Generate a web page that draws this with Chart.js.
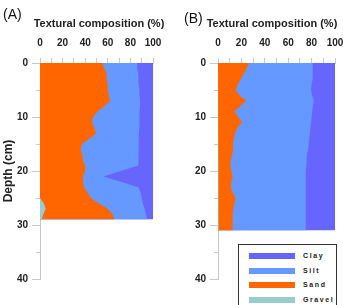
<!DOCTYPE html>
<html>
<head>
<meta charset="utf-8">
<script src="https://cdn.jsdelivr.net/npm/chart.js@4.4.0/dist/chart.umd.min.js"></script>
<style>
body{margin:0;width:343px;height:305px;overflow:hidden;background:#fff;position:relative;font-family:"Liberation Sans",Arial,sans-serif}
#wrapA{position:absolute;left:0;top:0;width:198px;height:305px}
#wrapB{position:absolute;left:171px;top:0;width:202px;height:305px}
.panel{position:absolute;font-size:14px;line-height:16px;color:#111}
#legend{position:absolute;left:238px;top:244px;width:97px;height:70px;border:1px solid #333;background:#fff}
.item{position:absolute;left:10px;width:85px;height:8px}
.sw{position:absolute;left:0;top:1px;width:46px;height:6px}
.lb{position:absolute;left:54px;top:-1px;font-size:7px;font-weight:bold;letter-spacing:1.6px;color:#222;white-space:nowrap;line-height:10px}
</style>
</head>
<body>
<div id="wrapA"><canvas id="chartA" width="198" height="305"></canvas></div>
<div id="wrapB"><canvas id="chartB" width="202" height="305"></canvas></div>
<div class="panel" style="left:3px;top:6px">(A)</div>
<div class="panel" style="left:184px;top:10px">(B)</div>
<div id="legend"></div>
<script>
// depth (cm) and composition (%) for each core
const depthA = [0,1,2,3,4,5,6,7,8,9,10,11,12,13,14,15,16,17,18,19,20,21,22,23,24,25,26,27,28,29]
const gravelA = [0,0,0,0,0,0,0,0,0,0,0,0,0,0,0,0,0,0,0,0,0,0,0,0,0,0.5,3.5,5,3,1.5]
const sandA = [55,57,59,59,60,60,61,62,57,51,47,46,48,50,44,37,36,37.5,38,40,40,38,38,39,42,44.5,48.5,55,61,64.5]
const siltA = [31,29,28,28,27.5,28,27,26.5,31.5,37,41,42,40,37.5,43,50,51,49.5,49,47,31.5,18,33.5,48,47,45,39,32.5,29.5,29]
const clayA = [14,14,13,13,12.5,12,12,11.5,11.5,12,12,12,12,12.5,13,13,13,13,13,13,28.5,44,28.5,13,11,10,9,7.5,6.5,5]

const depthB = [0,1,2,3,4,5,6,7,8,9,10,11,12,13,14,15,16,17,18,19,20,21,22,23,24,25,26,27,28,29,30,31]
const gravelB = [0,0,0,0,0.5,0.8,0.8,0.8,0.8,0.8,0.8,0.8,0.8,0.8,0.8,0.8,0.8,0.8,0.8,0.8,0.8,0.8,0.8,0.8,0.8,0.5,0,0,0,0,0,0]
const sandB = [26.5,24.5,22,19.5,16.5,14.2,17.7,23.2,18.2,13,16.7,19.7,15.7,13.7,12.7,12,12.2,11.2,10.2,9.7,10.7,11.7,10.7,10.2,11.7,14.5,14,13,12.5,12.5,12.5,12.5]
const siltB = [54.5,56.5,59,61,63,64.5,62,58,62,66.7,62.5,59,62.5,64,64.5,64.7,64,64,64.5,65,63.5,62.5,63.5,64,62.5,60,61,62,62.5,62.5,62.5,62.5]
const clayB = [19,19,19,19.5,20,20.5,19.5,18,19,19.5,20,20.5,21,21.5,22,22.5,23,24,24.5,24.5,25,25,25,25,25,25,25,25,25,25,25,25]

const names = ['Gravel','Sand','Silt','Clay']
const colors = ['#99cccc','#ff6600','#6699ff','#6666ff']

Chart.defaults.font.family = '"Liberation Sans", Arial, sans-serif'
Chart.defaults.color = '#222'
const axisGray = '#c8c8c8'

function points(depth, vals){
    return depth.map(function(d, i){ return {x: vals[i], y: d} })
}

// canvas is a bit wider than the panel so the title centres where the original one does,
// an empty right-hand axis keeps the plot at its width
function makeChart(id, depth, series, yWidth, yTitle, padRight){
    const datasets = series.map(function(vals, i){
        return {
            label: names[i],
            data: points(depth, vals),
            backgroundColor: colors[i],
            borderColor: 'transparent',
            borderWidth: 0,
            pointRadius: 0,
            tension: 0,
            fill: 'origin'
        }
    })
    return new Chart(document.getElementById(id), {
        type: 'line',
        data: {datasets: datasets},
        options: {
            responsive: false,
            animation: false,
            indexAxis: 'y',
            layout: {padding: {top: 0, right: 0, bottom: 26, left: 0}},
            plugins: {
                legend: {display: false},
                tooltip: {enabled: false},
                title: {display: true, text: 'Textural composition (%)', color: '#222',
                    font: {size: 11, weight: 'bold'}, padding: {top: 17, bottom: 0}}
            },
            scales: {
                x: {
                    type: 'linear', position: 'top', stacked: true, min: 0, max: 100,
                    ticks: {stepSize: 10, autoSkip: false, maxRotation: 0, padding: 9,
                        font: {size: 10, weight: 'bold'},
                        callback: function(v){ return v % 20 === 0 ? v : '' }},
                    grid: {drawOnChartArea: false, tickLength: 5, color: axisGray},
                    border: {color: axisGray},
                    afterFit: function(s){
                        s.height = 32.8
                        s.paddingLeft = 0
                        s.paddingRight = 0
                    }
                },
                y: {
                    type: 'linear', position: 'left', min: 0, max: 40, reverse: true, weight: 1,
                    ticks: {stepSize: 10, padding: 4, font: {size: 10, weight: 'bold'}},
                    grid: {drawOnChartArea: false, tickLength: 8, color: axisGray},
                    border: {color: axisGray},
                    title: {display: !!yTitle, text: yTitle, font: {size: 12, weight: 'bold'},
                        padding: {top: 1, bottom: 0}},
                    afterFit: function(s){ s.width = yWidth }
                },
                yMinor: {
                    type: 'linear', position: 'left', min: 0, max: 40, reverse: true, weight: 0,
                    ticks: {stepSize: 5, callback: function(){ return '' }},
                    grid: {drawOnChartArea: false, tickLength: 4, color: axisGray},
                    border: {display: false},
                    afterFit: function(s){ s.width = 0 }
                },
                yPad: {
                    type: 'linear', position: 'right', min: 0, max: 40,
                    ticks: {callback: function(){ return '' }},
                    grid: {display: false, drawTicks: false},
                    border: {display: false},
                    afterFit: function(s){ s.width = padRight }
                }
            }
        }
    })
}

const chartA = makeChart('chartA', depthA, [gravelA, sandA, siltA, clayA], 40, 'Depth (cm)', 45)
const chartB = makeChart('chartB', depthB, [gravelB, sandB, siltB, clayB], 47, '', 38)

// legend, clay on top
const legend = document.getElementById('legend')
chartB.data.datasets.slice().reverse().forEach(function(ds, i){
    const item = document.createElement('div')
    item.className = 'item'
    item.style.top = (7 + i * 14.6) + 'px'
    item.innerHTML = '<div class="sw" style="background:' + ds.backgroundColor + '"></div><div class="lb">' + ds.label + '</div>'
    legend.appendChild(item)
})
</script>
</body>
</html>
